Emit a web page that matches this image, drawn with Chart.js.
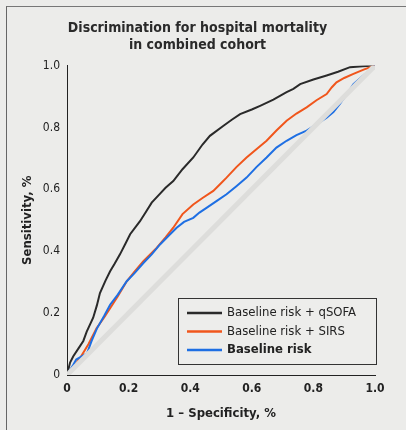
<!DOCTYPE html>
<html>
<head>
<meta charset="utf-8">
<script src="https://cdn.jsdelivr.net/npm/chart.js@4.4.1/dist/chart.umd.min.js"></script>
<style>
  html, body { margin: 0; padding: 0; background: #ececea; }
  #wrap { position: relative; width: 406px; height: 430px; overflow: hidden; }
  #frame { position: absolute; left: 6px; top: 6px; width: 420px; height: 440px;
           border-left: 1.5px solid #666; border-top: 1.5px solid #777; }
  canvas { position: absolute; left: 0; top: 0; }
</style>
</head>
<body>
<div id="wrap">
  <div id="frame"></div>
  <canvas id="roc" width="406" height="430"></canvas>
</div>
<script>
// ROC curves (1 - specificity vs sensitivity)
const qsofaX = [0, 0.01, 0.02, 0.04, 0.053, 0.064, 0.085, 0.097, 0.107, 0.125, 0.14, 0.155, 0.172, 0.19, 0.205, 0.237, 0.255, 0.275, 0.30, 0.32, 0.345, 0.375, 0.41, 0.44, 0.464, 0.507, 0.535, 0.562, 0.6, 0.627, 0.67, 0.713, 0.735, 0.757, 0.8, 0.843, 0.88, 0.919, 0.96, 1];
const qsofaY = [0, 0.04, 0.06, 0.09, 0.11, 0.14, 0.185, 0.225, 0.265, 0.305, 0.335, 0.36, 0.39, 0.425, 0.455, 0.497, 0.525, 0.557, 0.584, 0.605, 0.627, 0.665, 0.703, 0.745, 0.773, 0.805, 0.825, 0.843, 0.858, 0.87, 0.89, 0.914, 0.925, 0.94, 0.955, 0.968, 0.98, 0.995, 0.998, 1];

const sirsX = [0, 0.02, 0.042, 0.07, 0.096, 0.12, 0.14, 0.165, 0.194, 0.22, 0.248, 0.27, 0.291, 0.32, 0.345, 0.375, 0.41, 0.44, 0.475, 0.5, 0.518, 0.55, 0.583, 0.615, 0.648, 0.68, 0.713, 0.745, 0.778, 0.81, 0.843, 0.86, 0.875, 0.9, 0.93, 0.965, 1];
const sirsY = [0, 0.025, 0.054, 0.1, 0.151, 0.185, 0.216, 0.255, 0.303, 0.335, 0.368, 0.39, 0.411, 0.445, 0.476, 0.52, 0.551, 0.572, 0.595, 0.62, 0.638, 0.672, 0.703, 0.73, 0.757, 0.79, 0.822, 0.845, 0.865, 0.888, 0.908, 0.93, 0.946, 0.96, 0.973, 0.988, 1];

const baseX = [0, 0.02, 0.03, 0.065, 0.08, 0.097, 0.12, 0.14, 0.165, 0.194, 0.22, 0.248, 0.275, 0.302, 0.33, 0.356, 0.38, 0.41, 0.43, 0.453, 0.49, 0.518, 0.55, 0.583, 0.615, 0.648, 0.68, 0.713, 0.745, 0.778, 0.81, 0.843, 0.865, 0.886, 0.91, 0.93, 0.965, 1];
const baseY = [0, 0.032, 0.05, 0.07, 0.11, 0.15, 0.19, 0.227, 0.26, 0.303, 0.33, 0.362, 0.39, 0.422, 0.45, 0.476, 0.495, 0.508, 0.525, 0.54, 0.565, 0.584, 0.61, 0.638, 0.672, 0.703, 0.735, 0.757, 0.775, 0.79, 0.81, 0.832, 0.85, 0.876, 0.91, 0.94, 0.97, 1];

const refX = [0, 1];
const refY = [0, 1];

const seriesNames = ["Baseline risk + qSOFA", "Baseline risk + SIRS", "Baseline risk"];
const seriesColors = ["#2a2a2a", "#f0561c", "#1e6fe3"];
const ticks = [0, 0.2, 0.4, 0.6, 0.8, 1.0];
const tickText = ["0", "0.2", "0.4", "0.6", "0.8", "1.0"];

const FONT = "'DejaVu Sans Condensed', 'DejaVu Sans', sans-serif";

function toPoints(xs, ys) {
  return xs.map((x, i) => ({ x: x, y: ys[i] }));
}

// legend drawn inside the plot, bottom right
const insideLegend = {
  id: "insideLegend",
  afterDraw(chart) {
    const ctx = chart.ctx;
    const area = chart.chartArea;
    const boxW = 198, boxH = 66;
    const x0 = area.right - boxW + 1;
    const y0 = area.bottom - 77;
    ctx.save();
    ctx.fillStyle = "#ededeb";
    ctx.fillRect(x0, y0, boxW, boxH);
    ctx.strokeStyle = "#333";
    ctx.lineWidth = 1;
    ctx.strokeRect(x0 + 0.5, y0 + 0.5, boxW, boxH);
    seriesNames.forEach((name, i) => {
      const yy = y0 + 15 + i * 18.5;
      ctx.strokeStyle = seriesColors[i];
      ctx.lineWidth = 2.5;
      ctx.beginPath();
      ctx.moveTo(x0 + 9, yy);
      ctx.lineTo(x0 + 44, yy);
      ctx.stroke();
      ctx.fillStyle = "#222";
      ctx.font = (i === 2 ? "bold " : "") + "13px " + FONT;
      ctx.textBaseline = "middle";
      ctx.fillText(name, x0 + 49, yy);
    });
    ctx.restore();
  }
};

const ctx = document.getElementById("roc").getContext("2d");

new Chart(ctx, {
  type: "scatter",
  data: {
    datasets: [
      {
        label: "Reference",
        data: toPoints(refX, refY),
        showLine: true,
        borderColor: "#dddddb",
        borderWidth: 5,
        pointRadius: 0
      },
      {
        label: "Reference dots",
        data: toPoints(refX, refY),
        showLine: true,
        borderColor: "#666",
        borderWidth: 1.2,
        borderDash: [1.2, 22],
        pointRadius: 0
      },
      {
        label: seriesNames[2],
        data: toPoints(baseX, baseY),
        showLine: true,
        borderColor: seriesColors[2],
        borderWidth: 2,
        pointRadius: 0
      },
      {
        label: seriesNames[1],
        data: toPoints(sirsX, sirsY),
        showLine: true,
        borderColor: seriesColors[1],
        borderWidth: 2,
        pointRadius: 0
      },
      {
        label: seriesNames[0],
        data: toPoints(qsofaX, qsofaY),
        showLine: true,
        borderColor: seriesColors[0],
        borderWidth: 2,
        pointRadius: 0
      }
    ]
  },
  options: {
    responsive: false,
    animation: false,
    layout: { padding: { left: 20, right: 31, top: 0, bottom: 9 } },
    plugins: {
      legend: { display: false },
      tooltip: { enabled: false },
      title: {
        display: true,
        text: ["Discrimination for hospital mortality", "in combined cohort"],
        color: "#2a2a2a",
        font: { family: FONT, size: 14, weight: "bold", lineHeight: 1.2 },
        padding: { top: 20, bottom: 12 }
      }
    },
    scales: {
      x: {
        type: "linear",
        min: 0,
        max: 1,
        afterBuildTicks: axis => { axis.ticks = ticks.map(v => ({ value: v })); },
        ticks: {
          callback: (v) => tickText[ticks.indexOf(Math.round(v * 10) / 10)],
          color: "#222",
          font: { family: FONT, size: 12, weight: "bold" },
          padding: 3,
          maxRotation: 0
        },
        grid: { display: false, drawTicks: true, tickLength: 4, tickColor: "#222" },
        border: { color: "#222", width: 1 },
        title: {
          display: true,
          text: "1 – Specificity, %",
          color: "#222",
          font: { family: FONT, size: 13, weight: "bold" },
          padding: { top: 6, bottom: 0 }
        }
      },
      y: {
        type: "linear",
        min: 0,
        max: 1,
        afterBuildTicks: axis => { axis.ticks = ticks.map(v => ({ value: v })); },
        afterFit: axis => { axis.width = 47; },
        ticks: {
          callback: (v) => tickText[ticks.indexOf(Math.round(v * 10) / 10)],
          color: "#222",
          font: { family: FONT, size: 12 },
          padding: 3
        },
        grid: { display: false, drawTicks: true, tickLength: 4, tickColor: "#222" },
        border: { color: "#222", width: 1 },
        title: {
          display: true,
          text: "Sensitivity, %",
          color: "#222",
          font: { family: FONT, size: 13, weight: "bold" },
          padding: { top: 0, bottom: 2 }
        }
      }
    }
  },
  plugins: [insideLegend]
});
</script>
</body>
</html>
